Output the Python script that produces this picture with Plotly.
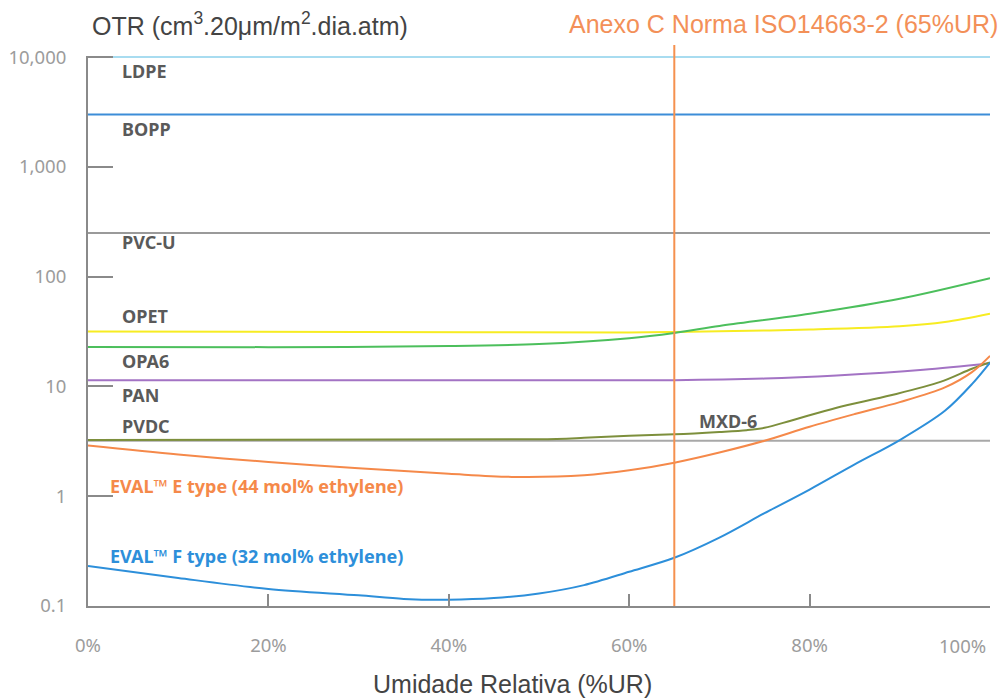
import plotly.graph_objects as go

# ---------------- data ----------------
rh_flat = [0, 100]
ldpe = [10000, 10000]
bopp = [3000, 3000]
pvcu = [250, 250]
pvdc = [3.2, 3.2]

opet_x = [0, 30, 60, 65, 70, 80, 90, 95, 100]
opet_y = [31.6, 31.3, 31.0, 31.3, 31.8, 33, 35.3, 38.6, 46]

opa6_x = [0, 20, 40, 50, 60, 65, 70, 80, 90, 100]
opa6_y = [22.9, 22.8, 23.3, 24.3, 27.5, 30.7, 35.5, 46, 63, 97]

pan_x = [0, 65, 75, 83, 92.6, 100]
pan_y = [11.4, 11.4, 11.8, 12.6, 14.2, 16.3]

mxd6_x = [0, 50, 55, 60, 65, 70, 73, 75, 78, 83, 89, 94.5, 98, 100]
mxd6_y = [3.25, 3.3, 3.4, 3.55, 3.66, 3.85, 4.0, 4.2, 4.9, 6.4, 8.3, 11, 14.5, 16.5]

evale_x = [0, 10, 20, 30, 40, 47, 55, 60, 65, 70, 75, 80, 85, 90, 95, 98, 100]
evale_y = [2.9, 2.4, 2.05, 1.8, 1.6, 1.5, 1.55, 1.72, 2.02, 2.5, 3.2, 4.3, 5.6, 7.2, 9.8, 13.5, 19]

evalf_x = [0, 10, 20, 30, 35, 40, 45, 50, 55, 60, 65, 70, 75, 80, 85, 90, 95, 98, 100]
evalf_y = [0.232, 0.18, 0.143, 0.125, 0.116, 0.114, 0.118, 0.13, 0.155, 0.205, 0.275,
           0.42, 0.7, 1.15, 1.95, 3.25, 6.0, 10.5, 16.5]

iso_rh = 65

y_tickvals = [0.1, 1, 10, 100, 1000, 10000]
y_ticktext = ["0.1", "1", "10", "100", "1,000", "10,000"]
x_tickvals = [0, 20, 40, 60, 80, 100]
x_ticktext = ["0%", "20%", "40%", "60%", "80%", "100%"]

# ---------------- figure ----------------
fig = go.Figure()

series = [
    (rh_flat, ldpe, "LDPE", "#A8DCF0"),
    (rh_flat, bopp, "BOPP", "#3C8DD8"),
    (rh_flat, pvcu, "PVC-U", "#9A9A9A"),
    (rh_flat, pvdc, "PVDC", "#A8A8A8"),
    (opet_x, opet_y, "OPET", "#F7EC22"),
    (opa6_x, opa6_y, "OPA6", "#4CBF5C"),
    (pan_x, pan_y, "PAN", "#A373C4"),
    (mxd6_x, mxd6_y, "MXD-6", "#7D8F3C"),
    (evale_x, evale_y, "EVAL E", "#F5894A"),
    (evalf_x, evalf_y, "EVAL F", "#2D8FDA"),
]
for xs, ys, name, col in series:
    fig.add_trace(go.Scatter(x=xs, y=ys, mode="lines", name=name,
                             line=dict(color=col, width=2, shape="spline", smoothing=0.9),
                             hoverinfo="skip"))

fig.add_shape(type="line", xref="x", yref="paper", x0=iso_rh, x1=iso_rh, y0=0, y1=1.02,
              line=dict(color="#F5914F", width=2))

lab_family = "'Noto Sans', 'Open Sans', sans-serif"
label_font = dict(family=lab_family, size=18, color="#5A5A5A")
labels = [
    ("LDPE", 3.5, 72), ("BOPP", 3.5, 130), ("PVC-U", 3.5, 243), ("OPET", 3.5, 317),
    ("OPA6", 3.5, 361), ("PAN", 3.5, 395), ("PVDC", 3.5, 426), ("MXD-6", 67.5, 421),
]
def py2paper(py):
    return (606 - py) / 549.0

for txt, xv, py in labels:
    fig.add_annotation(text="<b>" + txt + "</b>", x=xv, xref="x", y=py2paper(py), yref="paper",
                       xanchor="left", yanchor="middle", showarrow=False, font=label_font)

fig.add_annotation(text="<b>EVAL™ E type (44 mol% ethylene)</b>", x=2.2, xref="x",
                   y=py2paper(486), yref="paper", xanchor="left", yanchor="middle", showarrow=False,
                   font=dict(family=lab_family, size=18, color="#F5894A"))
fig.add_annotation(text="<b>EVAL™ F type (32 mol% ethylene)</b>", x=2.2, xref="x",
                   y=py2paper(556), yref="paper", xanchor="left", yanchor="middle", showarrow=False,
                   font=dict(family=lab_family, size=18, color="#2D8FDA"))

title_family = "'Liberation Sans', Arial, sans-serif"
title_font = dict(family=title_family, size=25, color="#444444")
fig.add_annotation(text="OTR (cm<sup>3</sup>.20μm/m<sup>2</sup>.dia.atm)", x=0.002, xref="paper",
                   y=py2paper(25), yref="paper", xanchor="left", yanchor="middle", showarrow=False,
                   font=title_font)
fig.add_annotation(text="Anexo C Norma ISO14663-2 (65%UR)", x=(1000 - 88) / 902.0, xref="paper",
                   y=py2paper(25), yref="paper", xanchor="right", yanchor="middle", showarrow=False,
                   font=dict(family=title_family, size=25, color="#F39058"))
fig.add_annotation(text="Umidade Relativa (%UR)", x=(512 - 88) / 902.0, xref="paper",
                   y=py2paper(684), yref="paper", xanchor="center", yanchor="middle", showarrow=False,
                   font=title_font)

tick_font = dict(family=lab_family, size=18.5, color="#9C9C9C")
# last x tick label is shifted inward in the original; draw it as an annotation
fig.add_annotation(text=x_ticktext[-1], x=(988 - 88) / 902.0, xref="paper",
                   y=py2paper(645), yref="paper", xanchor="right", yanchor="middle", showarrow=False,
                   font=tick_font)
x_ticktext_axis = x_ticktext[:-1] + [""]

fig.update_xaxes(range=[0, 100], tickvals=x_tickvals, ticktext=x_ticktext_axis, automargin=False,
                 showgrid=False, zeroline=False, showline=True, linecolor="#8A8A8A", linewidth=2,
                 ticks="inside", ticklen=12, tickwidth=2, tickcolor="#8A8A8A",
                 tickfont=tick_font, ticklabelstandoff=22, ticklabeloverflow="allow")
fig.update_yaxes(type="log", range=[-1, 4.01], tickvals=y_tickvals, ticktext=y_ticktext,
                 automargin=False,
                 showgrid=False, zeroline=False, showline=True, linecolor="#8A8A8A", linewidth=2,
                 ticks="inside", ticklen=25, tickwidth=1.5, tickcolor="#8A8A8A",
                 tickfont=tick_font, ticklabelstandoff=16)
fig.update_layout(width=1003, height=698, margin=dict(l=88, r=13, t=56, b=92),
                  paper_bgcolor="white", plot_bgcolor="white", showlegend=False)

fig.write_html("out.html", config={"displayModeBar": False},
               post_script="document.body.style.margin='0px';document.body.style.overflow='hidden';")
